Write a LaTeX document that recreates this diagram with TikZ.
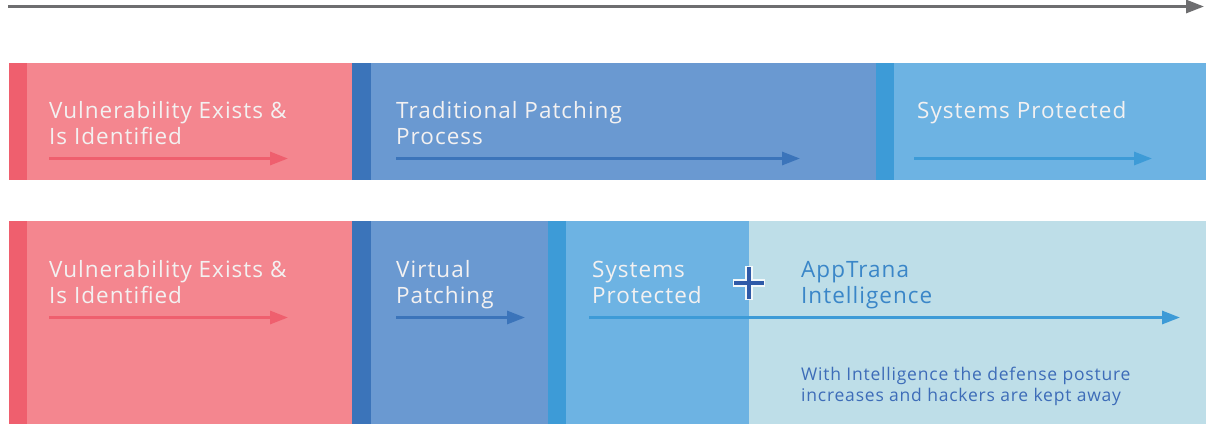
\documentclass[tikz,border=0pt]{standalone}
\usepackage{fontspec}
\setmainfont{Open Sans}[LetterSpace=4.5]
\usetikzlibrary{arrows.meta}
\definecolor{redS}{HTML}{EF5F6E}
\definecolor{redB}{HTML}{F4868F}
\definecolor{blueS}{HTML}{3B74BA}
\definecolor{blueB}{HTML}{6A99D1}
\definecolor{lblueS}{HTML}{3D9BD7}
\definecolor{lblueB}{HTML}{6DB3E3}
\definecolor{paleB}{HTML}{BEDEE8}
\definecolor{grayA}{HTML}{6E6E70}
\definecolor{txtW}{HTML}{F3F1F1}
\definecolor{appT}{HTML}{3A86C8}
\definecolor{smallT}{HTML}{3D6CB8}
\definecolor{plusC}{HTML}{2F5AA8}
\tikzset{
  lbl/.style={anchor=base west, inner sep=0pt, text=txtW, font=\fontsize{22.5}{25}\selectfont},
  applbl/.style={lbl, text=appT},
  smalllbl/.style={anchor=base west, inner sep=0pt, text=smallT, font=\fontsize{17.5}{18}\selectfont},
  flow/.style={line width=3pt, -{Triangle[length=18pt,width=13pt]}},
}
\begin{document}
\begin{tikzpicture}[x=1pt,y=-1pt]
\useasboundingbox (0,0) rectangle (1206,424);
\fill[white] (0,0) rectangle (1206,424);
% timeline
\coordinate (t0) at (8,6.5);
\coordinate (t1) at (1204,6.5);
\draw[grayA, flow] (t0) -- (t1);
% row 1
\fill[redS] (9,63) rectangle (27,180);
\fill[redB] (27,63) rectangle (352,180);
\fill[blueS] (352,63) rectangle (371,180);
\fill[blueB] (371,63) rectangle (876,180);
\fill[lblueS] (876,63) rectangle (894,180);
\fill[lblueB] (894,63) rectangle (1206,180);
\node[lbl] (v1a) at (49,118) {Vulnerability Exists \&};
\node[lbl] (v1b) at (49,144) {Is Identified};
\node[lbl] (tp1) at (396,118) {Traditional Patching};
\node[lbl] (tp2) at (396,144) {Process};
\node[lbl] (sp1) at (917,118) {Systems Protected};
\coordinate (a1s) at (49,158.5); \coordinate (a1e) at (288,158.5);
\coordinate (a2s) at (396,158.5); \coordinate (a2e) at (800,158.5);
\coordinate (a3s) at (914,158.5); \coordinate (a3e) at (1152,158.5);
\draw[redS, flow] (a1s) -- (a1e);
\draw[blueS, flow] (a2s) -- (a2e);
\draw[lblueS, flow] (a3s) -- (a3e);
% row 2
\fill[redS] (9,221) rectangle (27,424);
\fill[redB] (27,221) rectangle (352,424);
\fill[blueS] (352,221) rectangle (371,424);
\fill[blueB] (371,221) rectangle (548,424);
\fill[lblueS] (548,221) rectangle (566,424);
\fill[lblueB] (566,221) rectangle (749,424);
\fill[paleB] (749,221) rectangle (1206,424);
\node[lbl] (v2a) at (49,277) {Vulnerability Exists \&};
\node[lbl] (v2b) at (49,303) {Is Identified};
\node[lbl] (vp1) at (396,277) {Virtual};
\node[lbl] (vp2) at (396,303) {Patching};
\node[lbl] (sp2a) at (592,277) {Systems};
\node[lbl] (sp2b) at (592,303) {Protected};
\node[applbl] (ap1) at (801,277) {AppTrana};
\node[applbl] (ap2) at (801,303) {Intelligence};
\node[smalllbl] (w1) at (801,380.5) {With Intelligence the defense posture};
\node[smalllbl] (w2) at (801,401.5) {increases and hackers are kept away};
\coordinate (b1s) at (49,317.5); \coordinate (b1e) at (288,317.5);
\coordinate (b2s) at (396,317.5); \coordinate (b2e) at (525,317.5);
\coordinate (b3s) at (589,317.5); \coordinate (b3e) at (1180,317.5);
\draw[redS, flow] (b1s) -- (b1e);
\draw[blueS, flow] (b2s) -- (b2e);
\draw[lblueS, flow] (b3s) -- (b3e);
% plus sign
\coordinate (pc) at (749,283);
\draw[white!80!paleB, line width=7.5pt] ([xshift=-16pt]pc) -- ([xshift=16pt]pc) ([yshift=-17pt]pc) -- ([yshift=17pt]pc);
\draw[plusC, line width=4.5pt] ([xshift=-15pt]pc) -- ([xshift=15pt]pc) ([yshift=-16pt]pc) -- ([yshift=16pt]pc);
\end{tikzpicture}
\end{document}
